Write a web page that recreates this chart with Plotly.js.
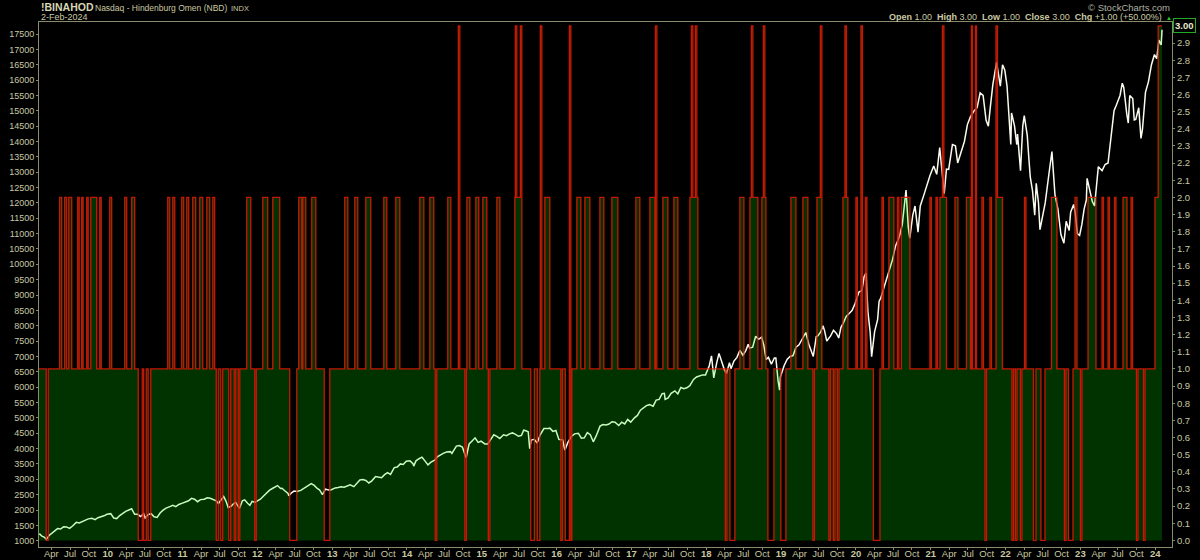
<!DOCTYPE html>
<html>
<head>
<meta charset="utf-8">
<script src="https://cdn.plot.ly/plotly-3.0.1.min.js"></script>
<style>
html,body{margin:0;padding:0;background:#000;}
#chart{width:1200px;height:560px;}
</style>
</head>
<body>
<div id="chart"></div>
<script>
// ---- Nasdaq 100 (left axis), time in decimal years ----
const ndxT = [
2009.085,2009.12,2009.15,2009.18,2009.22,2009.25,2009.29,2009.33,2009.37,2009.41,2009.45,2009.49,2009.53,2009.58,2009.62,2009.66,2009.70,2009.74,2009.79,2009.83,2009.87,2009.91,2009.95,2009.99,
2010.04,2010.08,2010.12,2010.16,2010.20,2010.24,2010.29,2010.32,2010.36,2010.40,2010.44,2010.48,2010.50,2010.54,2010.58,2010.62,2010.66,2010.70,2010.74,2010.78,2010.83,2010.87,2010.91,2010.95,2010.99,
2011.04,2011.08,2011.12,2011.16,2011.20,2011.24,2011.29,2011.33,2011.37,2011.41,2011.45,2011.48,2011.52,2011.55,2011.58,2011.61,2011.65,2011.67,2011.71,2011.74,2011.76,2011.80,2011.83,2011.87,2011.90,2011.93,2011.97,2011.99,
2012.04,2012.08,2012.12,2012.16,2012.20,2012.24,2012.27,2012.31,2012.33,2012.37,2012.41,2012.42,2012.46,2012.49,2012.53,2012.58,2012.62,2012.66,2012.70,2012.72,2012.76,2012.80,2012.83,2012.87,2012.91,2012.95,2012.99,
2013.04,2013.08,2013.12,2013.16,2013.20,2013.24,2013.29,2013.33,2013.37,2013.41,2013.45,2013.49,2013.53,2013.58,2013.62,2013.66,2013.70,2013.74,2013.78,2013.83,2013.87,2013.91,2013.95,2013.99,
2014.04,2014.08,2014.09,2014.12,2014.16,2014.20,2014.24,2014.28,2014.32,2014.37,2014.41,2014.45,2014.49,2014.53,2014.58,2014.60,2014.66,2014.70,2014.74,2014.79,2014.83,2014.87,2014.91,2014.95,2014.99,
2015.04,2015.08,2015.12,2015.16,2015.20,2015.24,2015.29,2015.33,2015.37,2015.41,2015.45,2015.49,2015.53,2015.56,2015.58,2015.62,2015.64,2015.66,2015.70,2015.74,2015.78,2015.83,2015.87,2015.91,2015.95,2015.99,
2016.03,2016.08,2016.11,2016.15,2016.20,2016.24,2016.29,2016.33,2016.37,2016.41,2016.45,2016.49,2016.53,2016.58,2016.62,2016.66,2016.70,2016.74,2016.78,2016.83,2016.87,2016.91,2016.95,2016.99,
2017.04,2017.08,2017.12,2017.16,2017.20,2017.24,2017.29,2017.33,2017.37,2017.41,2017.44,2017.45,2017.49,2017.53,2017.58,2017.62,2017.66,2017.70,2017.74,2017.78,2017.83,2017.87,2017.91,2017.95,2017.99,
2018.04,2018.07,2018.10,2018.14,2018.17,2018.21,2018.24,2018.27,2018.31,2018.33,2018.37,2018.41,2018.45,2018.49,2018.53,2018.56,2018.58,2018.62,2018.66,2018.70,2018.74,2018.77,2018.80,2018.83,2018.87,2018.91,2018.93,2018.96,2018.98,2018.99,
2019.04,2019.08,2019.12,2019.16,2019.20,2019.24,2019.29,2019.33,2019.37,2019.41,2019.43,2019.47,2019.49,2019.53,2019.56,2019.58,2019.61,2019.64,2019.66,2019.70,2019.74,2019.77,2019.80,2019.83,2019.87,2019.91,2019.95,2019.99,
2020.04,2020.08,2020.11,2020.135,2020.16,2020.19,2020.21,2020.23,2020.25,2020.29,2020.31,2020.33,2020.37,2020.41,2020.45,2020.49,2020.53,2020.58,2020.62,2020.66,2020.67,2020.70,2020.72,2020.76,2020.79,2020.83,2020.86,2020.91,2020.95,2020.99,
2021.04,2021.08,2021.12,2021.16,2021.18,2021.21,2021.24,2021.29,2021.33,2021.36,2021.41,2021.45,2021.49,2021.53,2021.58,2021.62,2021.66,2021.70,2021.74,2021.77,2021.80,2021.83,2021.88,2021.91,2021.93,2021.96,2021.99,
2022.02,2022.05,2022.07,2022.08,2022.12,2022.15,2022.16,2022.20,2022.23,2022.25,2022.29,2022.31,2022.33,2022.36,2022.38,2022.39,2022.41,2022.44,2022.46,2022.49,2022.53,2022.58,2022.62,2022.66,2022.70,2022.74,2022.78,2022.81,2022.85,2022.87,2022.91,2022.93,2022.96,2022.99,
2023.02,2023.05,2023.08,2023.09,2023.13,2023.16,2023.19,2023.21,2023.24,2023.29,2023.33,2023.37,2023.41,2023.45,2023.48,2023.53,2023.56,2023.58,2023.62,2023.64,2023.66,2023.70,2023.72,2023.74,2023.78,2023.81,2023.83,2023.87,2023.91,2023.95,2023.99,
2024.02,2024.05,2024.08,2024.091
];
const ndxV = [
1230,1150,1120,1043,1180,1237,1300,1395,1380,1453,1450,1400,1480,1597,1580,1632,1660,1711,1730,1685,1750,1768,1810,1860,
1880,1740,1720,1818,1900,1957,2010,2040,1860,1860,1790,1880,1740,1850,1880,1780,1760,1900,1995,2060,2110,2150,2110,2180,2217,
2260,2300,2380,2350,2270,2338,2350,2400,2380,2350,2300,2210,2350,2440,2290,2080,2120,2180,2250,2120,2050,2300,2330,2220,2150,2280,2250,2278,
2350,2450,2550,2640,2700,2755,2795,2700,2710,2620,2540,2460,2570,2615,2600,2640,2700,2770,2820,2860,2800,2700,2660,2500,2680,2650,2660,
2720,2730,2760,2740,2790,2820,2760,2860,2980,2990,2960,2880,2950,3090,3080,3050,3150,3220,3160,3380,3400,3500,3480,3590,
3600,3510,3430,3600,3670,3720,3600,3470,3560,3620,3740,3800,3850,3890,3900,3840,4080,4100,4050,3700,4150,4250,4350,4200,4240,
4150,4150,4300,4450,4400,4330,4450,4420,4480,4510,4460,4400,4430,4600,4590,4550,4000,4275,4300,4180,4450,4650,4650,4665,4560,4590,
4300,4280,3950,4200,4400,4480,4500,4340,4350,4520,4450,4220,4420,4730,4780,4770,4800,4875,4860,4750,4860,4800,4950,4860,
5000,5080,5250,5330,5400,5430,5380,5580,5600,5790,5800,5600,5650,5800,5880,5780,5990,5950,5980,6050,6250,6330,6370,6400,6400,
6700,7020,6300,6800,7100,6800,6580,6450,6800,6600,6850,6970,7200,7040,7200,7400,7270,7300,7660,7560,7630,7350,6900,6970,6750,6950,6950,6200,5900,6330,
6700,6900,7000,7030,7300,7380,7600,7780,7400,7130,7000,7650,7670,7800,8000,7850,7500,7600,7660,7850,7750,7600,7950,8080,8300,8400,8500,8730,
9100,9150,9600,9720,8460,7800,6995,7400,7810,8200,8800,8890,9200,9550,9900,10160,10600,10900,11300,12110,12420,11200,10850,11600,11900,11050,11900,12270,12600,12890,
13200,12930,13800,12900,12300,13100,13090,13900,13860,13300,13690,14000,14550,14800,15000,15100,15580,15500,14690,14500,15200,15850,16573,16100,15800,16500,16320,
15800,14500,13900,14930,14500,13900,14240,13050,14500,14840,14200,13500,12850,12400,11800,11600,12640,12000,11130,11500,12000,12950,13670,12270,11800,10970,10690,11400,11100,11700,11950,11700,11000,10940,
11300,11800,12100,12800,12300,12040,11900,12500,13180,13050,13250,13300,14250,15000,15180,15500,15900,15760,14900,14600,15500,15400,14700,14720,15100,14100,14400,15600,15950,16500,16830,
16700,17300,17140,17640
];

// ---- Hindenburg Omen count (right axis): change points, value held until next point ----
const omenT = [
2009.082,2009.178,2009.205,2009.358,2009.385,2009.425,2009.452,2009.479,2009.519,2009.599,2009.619,2009.652,2009.672,2009.719,2009.739,2009.773,2009.853,2009.893,2009.913,
2010.027,2010.053,2010.227,2010.254,2010.321,2010.361,2010.408,2010.461,2010.481,2010.515,2010.541,2010.575,2010.802,2010.829,2010.869,2010.896,2010.989,
2011.016,2011.056,2011.083,2011.136,2011.176,2011.230,2011.270,2011.324,2011.364,2011.404,2011.430,2011.451,2011.477,2011.511,2011.537,2011.618,2011.644,2011.691,2011.711,2011.745,2011.765,2011.858,2011.912,2011.965,2011.985,
2012.072,2012.139,2012.206,2012.299,2012.433,2012.527,2012.553,2012.594,2012.607,2012.647,2012.727,2012.781,2012.894,2012.968,
2013.168,2013.209,2013.302,2013.342,2013.449,2013.516,2013.690,2013.730,2013.850,2013.904,
2014.171,2014.225,2014.305,2014.358,2014.378,2014.398,2014.545,2014.586,2014.686,2014.706,2014.773,2014.793,2014.800,2014.840,2014.920,2014.960,
2015.013,2015.067,2015.087,2015.107,2015.201,2015.241,2015.441,2015.448,2015.468,2015.515,2015.535,2015.655,2015.702,2015.742,2015.775,2015.782,2015.802,2015.842,2015.909,
2016.056,2016.076,2016.116,2016.170,2016.190,2016.203,2016.270,2016.324,2016.377,2016.444,2016.578,2016.631,2016.738,2016.818,
2017.059,2017.112,2017.246,2017.313,2017.320,2017.340,2017.420,2017.487,2017.567,2017.620,2017.781,2017.801,2017.821,2017.854,2017.874,2017.888,
2018.255,2018.275,2018.316,2018.382,2018.449,2018.503,2018.583,2018.603,2018.623,2018.690,2018.743,2018.763,2018.783,2018.797,2018.824,2018.904,2018.997,
2019.064,2019.131,2019.198,2019.291,2019.358,2019.425,2019.445,2019.479,2019.525,2019.545,2019.639,2019.659,2019.699,2019.719,2019.753,2019.773,2019.826,2019.853,2019.873,2019.893,
2020.000,2020.020,2020.067,2020.087,2020.127,2020.147,2020.234,2020.321,2020.348,2020.368,2020.441,2020.508,2020.555,2020.575,2020.608,2020.722,2020.989,
2021.009,2021.070,2021.090,2021.123,2021.156,2021.176,2021.210,2021.324,2021.364,2021.477,2021.531,2021.544,2021.557,2021.598,2021.611,2021.684,2021.705,2021.725,2021.745,2021.791,2021.812,2021.872,2021.892,2021.959,
2022.086,2022.106,2022.132,2022.152,2022.199,2022.219,2022.253,2022.273,2022.373,2022.406,2022.473,2022.527,2022.614,2022.687,2022.787,2022.807,2022.841,2022.901,2022.928,2022.955,
2023.001,2023.021,2023.102,2023.209,2023.289,2023.309,2023.369,2023.389,2023.456,2023.476,2023.570,2023.623,2023.677,2023.697,2023.750,2023.770,2023.844,2023.864,2023.997,
2024.040,2024.091
];
const omenV = [
1,0,1,2,1,2,1,2,1,2,1,2,1,2,1,2,1,2,1,
2,1,2,1,2,1,0,1,0,1,0,1,2,1,2,1,2,
1,2,1,2,1,2,1,2,1,2,1,0,1,0,1,0,1,0,1,0,1,2,1,0,1,
2,1,2,1,0,1,2,1,2,1,2,1,0,1,
2,1,2,1,2,1,2,1,2,1,
2,1,2,1,0,1,2,1,3,1,0,1,2,1,2,1,
2,1,0,1,2,1,2,3,2,3,1,0,1,0,1,3,1,2,1,
0,1,0,3,0,1,2,1,2,1,2,1,2,1,
2,1,2,1,3,1,2,1,2,1,2,3,2,3,2,1,
0,1,0,1,2,1,2,3,2,1,2,3,2,1,0,1,0,
1,2,1,2,1,0,1,2,3,1,0,1,0,1,0,1,2,3,2,1,
2,1,3,1,2,1,0,1,2,1,2,1,2,1,2,1,2,
1,2,1,2,3,2,1,2,1,2,1,3,1,3,1,2,1,0,1,2,1,3,2,1,
0,1,0,1,0,1,2,1,0,1,0,1,2,1,0,1,0,1,2,1,
0,1,2,1,2,1,2,1,2,1,2,1,2,1,0,1,0,1,2,
3,3
];

// ---- axis labels and header texts ----
const years = [2009,2010,2011,2012,2013,2014,2015,2016,2017,2018,2019,2020,2021,2022,2023,2024];
const monthNames = ['Apr','Jul','Oct'];
const leftTicks = [1000,1500,2000,2500,3000,3500,4000,4500,5000,5500,6000,6500,7000,7500,8000,8500,9000,9500,10000,10500,11000,11500,12000,12500,13000,13500,14000,14500,15000,15500,16000,16500,17000,17500];
const rightTicks = [0.0,0.1,0.2,0.3,0.4,0.5,0.6,0.7,0.8,0.9,1.0,1.1,1.2,1.3,1.4,1.5,1.6,1.7,1.8,1.9,2.0,2.1,2.2,2.3,2.4,2.5,2.6,2.7,2.8,2.9];
const titleSymbol = '!BINAHOD';
const titleName = 'Nasdaq - Hindenburg Omen (NBD)';
const titleExch = 'INDX';
const dateLabel = '2-Feb-2024';
const quote = {open:'1.00', high:'3.00', low:'1.00', close:'3.00', chg:'+1.00 (+50.00%)'};

const tickVals = [], tickText = [];
years.forEach(y => {
  if (y > 2009) { tickVals.push(y); tickText.push('<b>' + String(y).slice(2) + '</b>'); }
  if (y < 2024) {
    [0.247, 0.496, 0.748].forEach((f, i) => { tickVals.push(y + f); tickText.push(monthNames[i]); });
  }
});

const txt = '#c9c9a3';
const axLine = '#8a8a6c';
const font = 'Liberation Sans, Arial, sans-serif';

const ndxTrace = {
  x: ndxT, y: ndxV, xaxis: 'x', yaxis: 'y', type: 'scatter', mode: 'lines',
  line: {color: '#fbfbef', width: 1.5}, hoverinfo: 'skip'
};
const omenTrace = {
  x: omenT, y: omenV, xaxis: 'x', yaxis: 'y2', type: 'scatter', mode: 'lines',
  line: {color: 'rgba(225,25,5,0.88)', width: 1.3, shape: 'hv'},
  fill: 'tozeroy', fillcolor: 'rgba(0,255,0,0.2)', hoverinfo: 'skip'
};

const W = 1133, H = 525, L = 39, T = 22;
const px = x => (x - L) / W;
const py = y => (T + H - y) / H;

const layout = {
  width: 1200, height: 560,
  margin: {l: 39, r: 28, t: 22, b: 13, pad: 0},
  paper_bgcolor: '#000', plot_bgcolor: '#000',
  showlegend: false,
  font: {family: font, size: 10, color: txt},
  xaxis: {
    range: [2009.0816, 2024.2246], tickmode: 'array', tickvals: tickVals, ticktext: tickText,
    showgrid: false, zeroline: false, showline: true, mirror: true, linecolor: axLine, linewidth: 1,
    ticks: 'outside', ticklen: 2, tickcolor: axLine, ticklabelstandoff: -4,
    tickfont: {family: font, size: 9.5, color: txt}
  },
  yaxis: {
    range: [795, 17891], tickmode: 'array', tickvals: leftTicks, tickformat: 'd',
    showgrid: false, zeroline: false, showline: true, linecolor: axLine, linewidth: 1,
    ticks: 'outside', ticklen: 2, tickcolor: axLine,
    tickfont: {family: font, size: 9, color: txt}
  },
  yaxis2: {
    range: [-0.0385, 3.0227], overlaying: 'y', side: 'right', tickmode: 'array', tickvals: rightTicks, tickformat: '.1f',
    showgrid: false, zeroline: false, showline: true, linecolor: axLine, linewidth: 1,
    ticks: 'outside', ticklen: 2, tickcolor: axLine,
    tickfont: {family: font, size: 9.5, color: txt}
  },
  annotations: [
    {xref: 'paper', yref: 'paper', x: px(39), y: py(7.5), xanchor: 'left', yanchor: 'middle', showarrow: false,
     text: '<b>' + titleSymbol + '</b>', font: {family: font, size: 10.5, color: '#d6d6b4'}},
    {xref: 'paper', yref: 'paper', x: px(93), y: py(8), xanchor: 'left', yanchor: 'middle', showarrow: false,
     text: titleName, font: {family: font, size: 8.5, color: txt}},
    {xref: 'paper', yref: 'paper', x: px(229), y: py(8), xanchor: 'left', yanchor: 'middle', showarrow: false,
     text: titleExch, font: {family: font, size: 7.5, color: txt}},
    {xref: 'paper', yref: 'paper', x: px(39), y: py(17), xanchor: 'left', yanchor: 'middle', showarrow: false,
     text: dateLabel, font: {family: font, size: 9, color: txt}},
    {xref: 'paper', yref: 'paper', x: px(1172), y: py(7), xanchor: 'right', yanchor: 'middle', showarrow: false,
     text: '© StockCharts.com', font: {family: font, size: 9.5, color: '#b0b0a0'}},
    {xref: 'paper', yref: 'paper', x: px(1164), y: py(17), xanchor: 'right', yanchor: 'middle', showarrow: false,
     text: '<b>Open</b> ' + quote.open + '  <b>High</b> ' + quote.high + '  <b>Low</b> ' + quote.low +
           '  <b>Close</b> ' + quote.close + '  <b>Chg</b> ' + quote.chg,
     font: {family: font, size: 9, color: txt}},
    {xref: 'paper', yref: 'paper', x: px(1169), y: py(18), xanchor: 'center', yanchor: 'middle', showarrow: false,
     text: '▲', font: {family: font, size: 6, color: '#22cc22'}},
    {xref: 'paper', yref: 'y2', x: px(1173), y: 3.0, xanchor: 'left', yanchor: 'middle', showarrow: false,
     text: '<b>' + quote.close + '</b>', font: {family: font, size: 9.5, color: '#e8e8d0'},
     bgcolor: '#000', bordercolor: '#22aa22', borderwidth: 1, borderpad: 1}
  ]
};

Plotly.newPlot('chart', [ndxTrace, omenTrace], layout, {displayModeBar: false, staticPlot: true});
</script>
</body>
</html>
